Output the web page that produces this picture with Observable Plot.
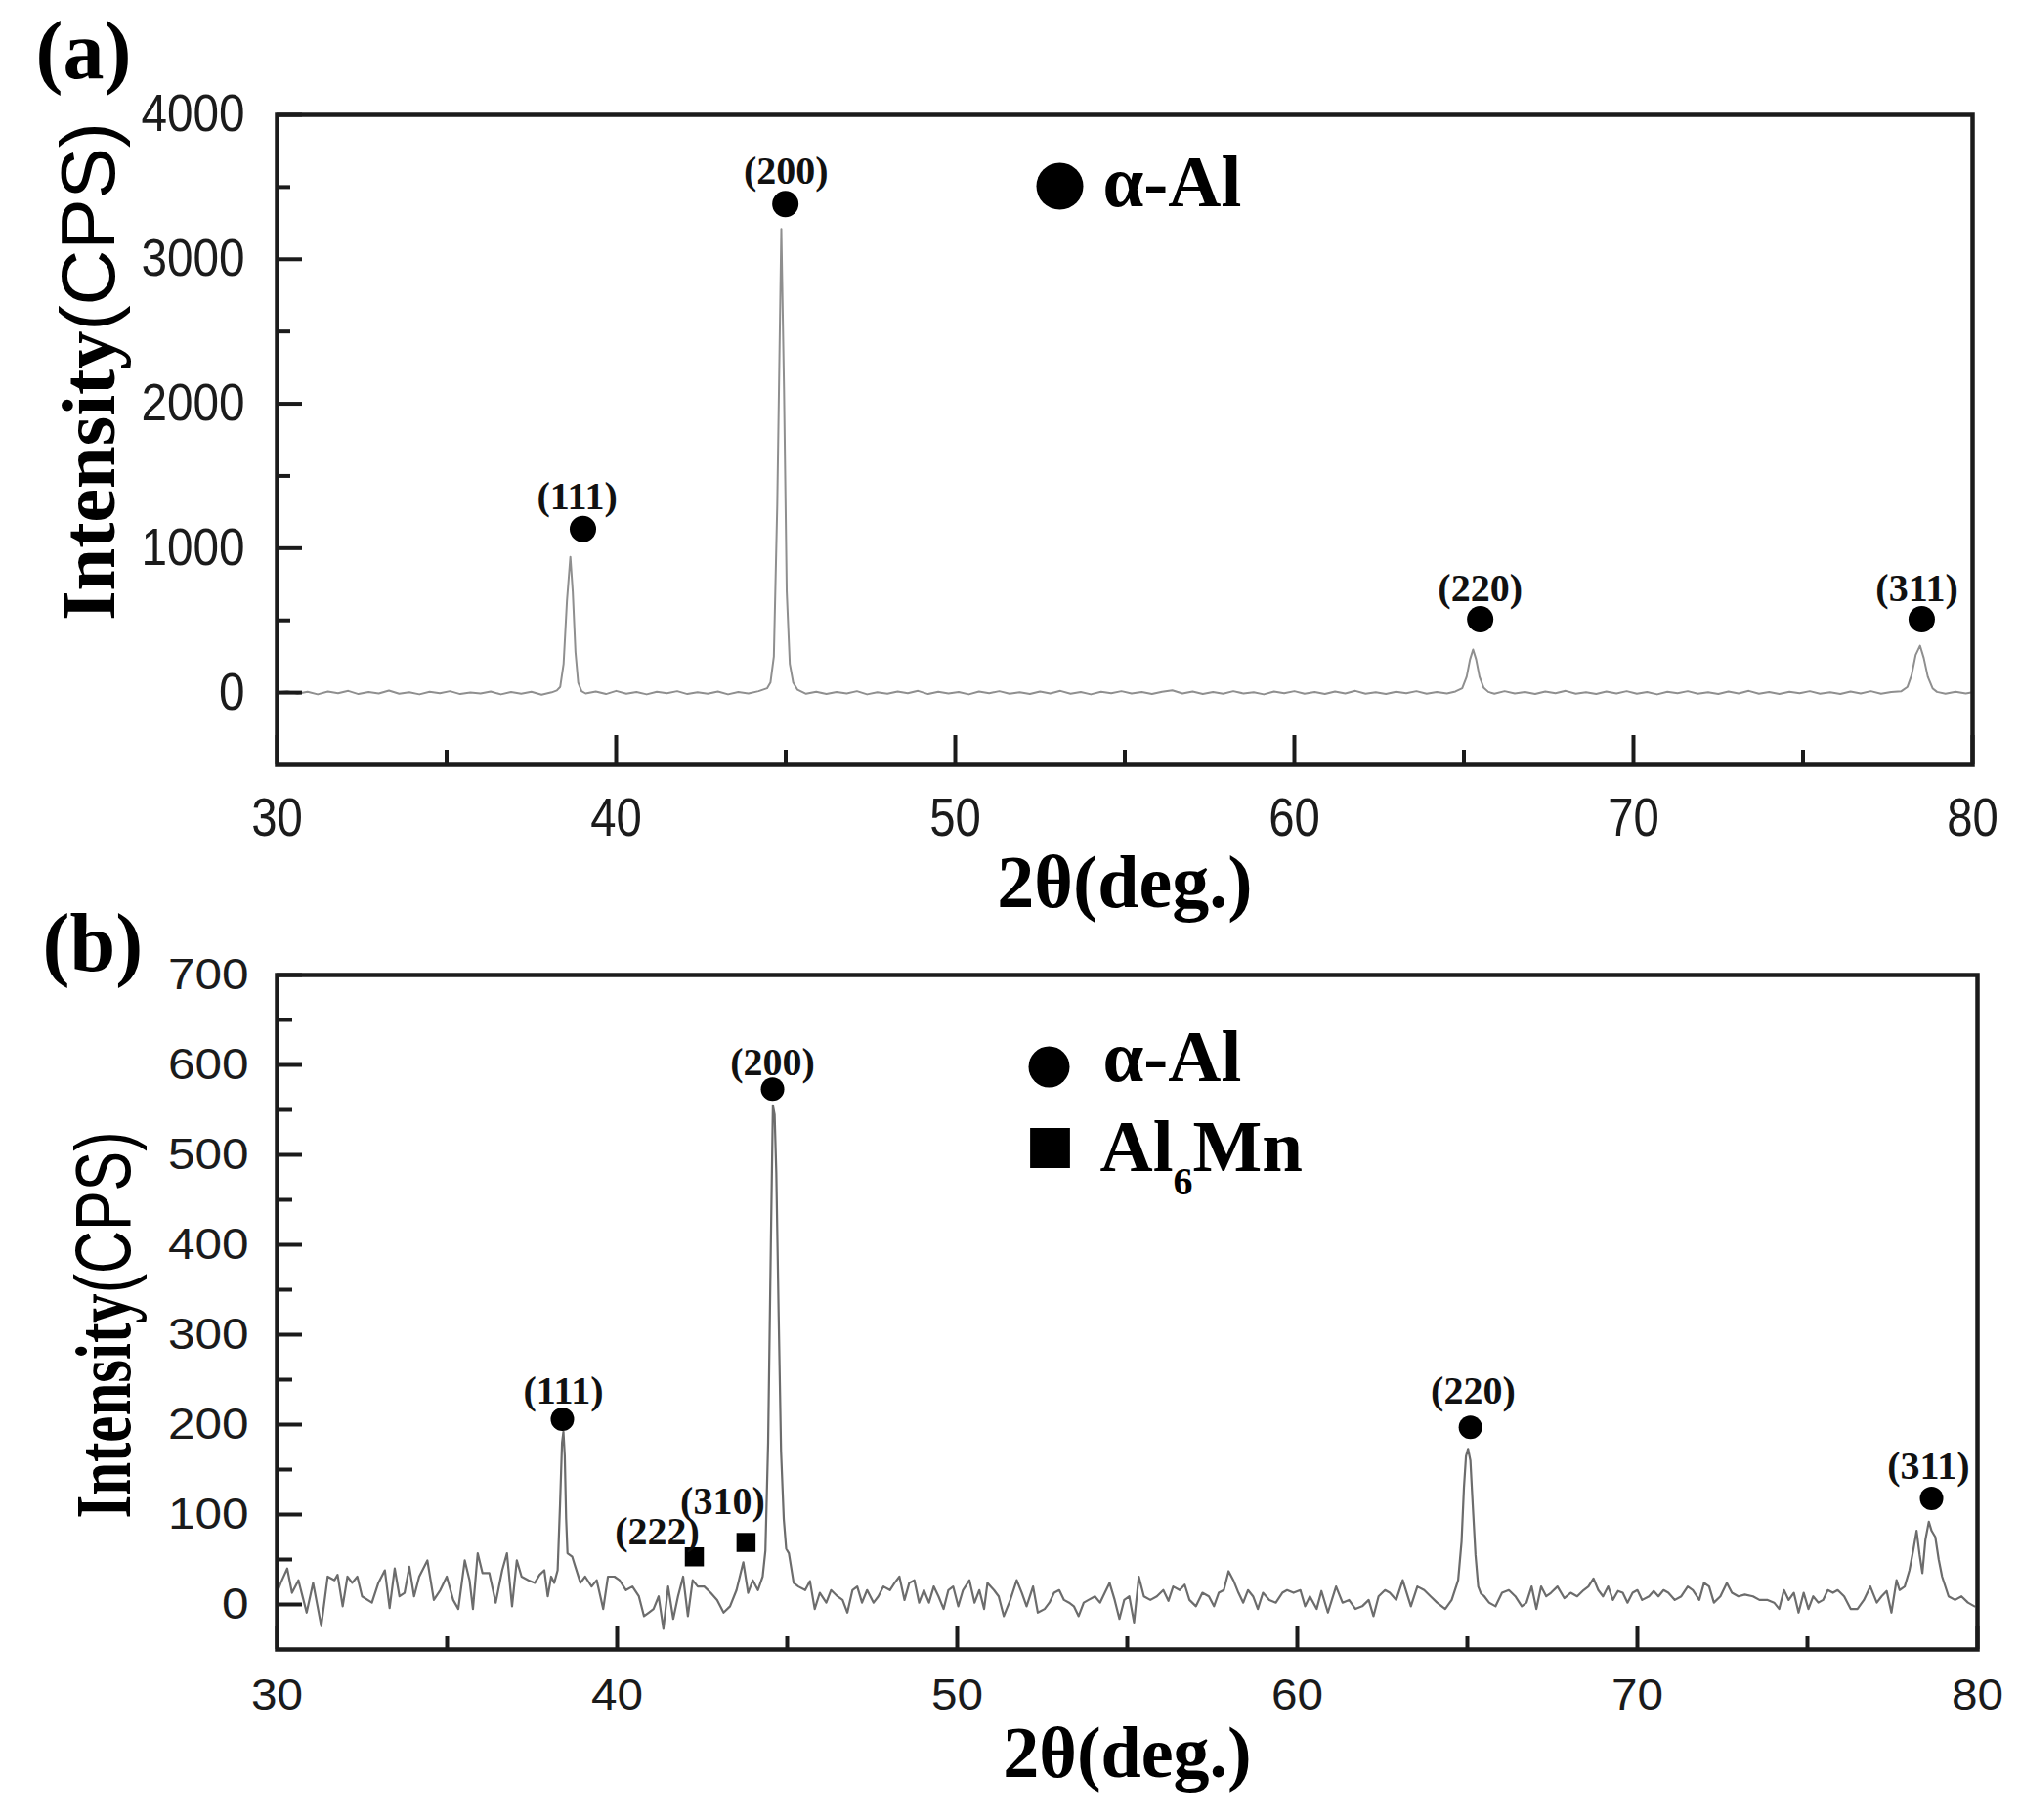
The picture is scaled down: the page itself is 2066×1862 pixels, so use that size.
<!DOCTYPE html>
<html>
<head>
<meta charset="utf-8">
<script src="https://cdn.jsdelivr.net/npm/d3@7"></script>
<script src="https://cdn.jsdelivr.net/npm/@observablehq/plot@0.6"></script>
<style>
html, body { margin: 0; padding: 0; background: #fff; }
#chart { width: 2066px; height: 1862px; }
#chart svg { display: block; }
</style>
</head>
<body>
<div id="chart"></div>
<script>
// ---------- shared axis ticks ----------
const xTicksMajor = [30, 40, 50, 60, 70, 80];
const xTicksMinor = [35, 45, 55, 65, 75];

// ---------- panel (a) ----------
const aYTicksMajor = [0, 1000, 2000, 3000, 4000];
const aYTicksMinor = [500, 1500, 2500, 3500];
const aTheta = [30.0,30.3,30.6,30.9,31.2,31.5,31.8,32.1,32.4,32.7,33.0,33.3,33.6,33.9,34.2,34.5,34.8,35.1,35.4,35.7,36.0,36.3,36.6,36.9,37.2,37.5,37.8,38.1,38.25,
  38.35,38.45,38.55,38.65,38.72,38.8,38.88,38.98,
  39.1,39.4,39.7,40.0,40.3,40.6,40.9,41.2,41.5,41.8,42.1,42.4,42.7,43.0,43.3,43.6,43.9,44.2,
  44.45,44.55,44.65,44.75,44.87,44.95,45.03,45.12,45.22,45.35,
  45.6,45.9,46.2,46.5,46.8,47.1,47.4,47.7,48.0,48.3,48.6,48.9,49.2,49.5,49.8,50.1,50.4,50.7,51.0,51.3,51.6,51.9,52.2,52.5,52.8,53.1,53.4,53.7,54.0,54.3,54.6,54.9,55.2,55.5,55.8,56.1,56.4,56.7,57.0,57.3,57.6,57.9,58.2,58.5,58.8,59.1,59.4,59.7,60.0,60.3,60.6,60.9,61.2,61.5,61.8,62.1,62.4,62.7,63.0,63.3,63.6,63.9,64.2,64.5,64.75,
  64.95,65.08,65.18,65.27,65.36,65.46,65.58,65.72,
  65.9,66.2,66.5,66.8,67.1,67.4,67.7,68.0,68.3,68.6,68.9,69.2,69.5,69.8,70.1,70.4,70.7,71.0,71.3,71.6,71.9,72.2,72.5,72.8,73.1,73.4,73.7,74.0,74.3,74.6,74.9,75.2,75.5,75.8,76.1,76.4,76.7,77.0,77.3,77.6,77.9,
  78.08,78.2,78.32,78.45,78.56,78.68,78.82,78.95,
  79.2,79.5,79.8,80.0];
const aCounts = [0,10,-8,6,-12,8,-4,12,-10,4,-6,14,-8,2,-12,6,-4,10,-10,0,-6,8,-12,4,-8,6,-14,2,15,
  40,200,640,940,700,280,70,10,
  -6,8,-10,12,-8,4,-12,6,-4,10,-10,2,-8,8,-12,4,-6,10,
  30,70,250,1300,3210,2100,700,200,70,20,
  -8,6,-10,4,-6,10,-12,2,-8,8,-4,12,-10,6,-6,4,-12,8,-4,10,-8,2,-10,8,-6,12,-8,4,-12,6,-4,10,-6,4,-10,6,16,-6,8,-10,4,-8,10,-6,2,-12,8,-4,10,-8,4,-10,8,-6,12,-8,2,-10,6,-4,10,-8,4,-6,8,
  30,110,230,298,230,110,35,5,
  -8,10,-6,4,-10,8,-4,12,-8,2,-10,8,-6,10,-8,4,-12,6,-4,10,-8,2,-10,8,-6,12,-8,4,-10,6,-4,10,-8,2,-10,8,-6,10,-8,4,10,
  40,120,260,325,240,110,30,5,
  -8,6,-6,2];
const aHkl = ["(111)", "(200)", "(220)", "(311)"];
const aLabelTheta = [38.85, 45.01, 65.48, 78.36];
const aLabelCounts = [1356, 3607, 719, 719];
const aMarkTheta = [39.02, 44.99, 65.48, 78.50];
const aMarkCounts = [1132, 3383, 508, 508];

// ---------- panel (b) ----------
const bYTicksMajor = [0, 100, 200, 300, 400, 500, 600, 700];
const bYTicksMinor = [50, 150, 250, 350, 450, 550, 650];
const bTheta = [30.02,30.11,30.30,30.44,30.63,30.87,31.06,31.30,31.49,31.69,31.78,31.93,32.07,32.21,32.36,32.50,32.79,32.98,33.17,33.31,33.46,33.60,33.75,33.89,34.03,34.18,34.42,34.61,34.80,34.99,35.18,35.33,35.52,35.66,35.76,35.90,36.04,36.24,36.43,36.62,36.76,36.91,37.05,37.19,37.39,37.58,37.72,37.86,37.96,38.06,38.15,38.25,
  38.32,38.38,38.42,38.46,38.50,38.54,
  38.68,38.77,38.92,39.06,39.25,39.40,39.59,39.73,39.92,40.07,40.26,40.45,40.64,40.79,40.93,41.07,41.22,41.36,41.50,41.65,41.79,41.94,42.08,42.22,42.37,42.56,42.75,42.94,43.13,43.32,43.51,43.71,43.85,43.99,44.14,44.28,
  44.36,44.44,44.52,44.58,44.63,44.68,44.75,44.82,44.90,44.97,
  45.05,45.19,45.33,45.53,45.67,45.81,45.96,46.15,46.29,46.48,46.63,46.77,46.92,47.06,47.20,47.35,47.54,47.68,47.83,48.02,48.16,48.30,48.45,48.59,48.74,48.88,49.02,49.17,49.31,49.45,49.60,49.74,49.88,50.03,50.17,50.36,50.51,50.65,50.79,50.89,51.08,51.22,51.37,51.56,51.75,51.90,52.04,52.23,52.37,52.57,52.71,52.85,53.00,53.14,53.29,53.43,53.57,53.72,53.86,54.05,54.20,54.34,54.48,54.63,54.77,54.91,55.06,55.20,55.34,55.49,55.68,55.87,56.06,56.21,56.35,56.54,56.69,56.83,57.02,57.21,57.40,57.55,57.69,57.84,57.98,58.12,58.27,58.41,58.55,58.70,58.84,58.99,59.18,59.37,59.56,59.70,59.89,60.09,60.23,60.37,60.57,60.71,60.90,61.14,61.33,61.52,61.71,61.91,62.10,62.24,62.39,62.58,62.72,62.91,63.10,63.34,63.53,63.73,63.92,64.11,64.35,64.54,64.73,
  64.83,64.90,64.96,65.02,65.09,65.16,65.24,65.32,65.40,
  65.50,65.64,65.83,66.02,66.22,66.41,66.60,66.74,66.89,67.03,67.17,67.32,67.46,67.65,67.85,68.04,68.23,68.42,68.56,68.71,68.85,68.99,69.14,69.28,69.43,69.57,69.71,69.86,70.00,70.14,70.34,70.48,70.62,70.77,70.91,71.10,71.29,71.48,71.63,71.82,71.96,72.11,72.25,72.44,72.63,72.78,72.97,73.16,73.40,73.59,73.83,74.02,74.17,74.31,74.45,74.60,74.74,74.89,75.03,75.17,75.32,75.46,75.60,75.75,75.89,76.08,76.27,76.47,76.66,76.85,77.04,77.18,77.33,77.47,77.62,77.71,77.86,
  78.00,78.12,78.21,78.30,78.38,78.47,78.57,78.65,78.76,78.86,78.96,
  79.15,79.34,79.53,79.72,79.91];
const bCounts = [15,24,40,13,27,-9,24,-24,31,27,33,-2,31,24,31,9,2,24,38,-4,40,9,13,42,9,31,49,5,16,31,5,-5,49,27,-5,57,35,35,2,38,57,-2,49,31,27,24,33,38,9,31,24,38,
  110,180,192,165,95,57,
  53,42,24,31,20,27,-5,31,31,27,16,20,9,-13,-9,-5,9,-27,20,-16,9,31,-13,27,20,20,13,5,-9,-2,16,47,13,27,16,31,
  60,180,400,555,545,480,320,170,95,62,
  57,24,20,16,26,-5,13,2,16,9,5,-9,16,20,2,16,2,9,20,16,24,31,5,24,27,2,16,2,20,9,-5,16,20,-2,16,27,2,16,-5,24,16,9,-13,5,27,13,-2,20,-9,-5,2,13,16,5,2,-2,-13,2,5,9,2,13,24,5,-16,5,9,-20,31,9,5,9,16,4,20,16,22,5,-2,13,9,-2,13,16,37,27,13,2,16,9,-5,13,5,2,13,16,13,16,-2,9,-5,15,-9,20,2,5,-5,-2,5,-13,9,16,13,5,27,-2,20,16,9,2,-5,5,27,
  70,130,165,173,160,110,55,20,12,
  9,2,-2,13,16,9,-2,2,20,-5,20,9,13,20,7,13,9,16,20,29,16,9,20,5,15,13,2,13,16,5,9,15,9,16,13,5,9,20,16,5,24,20,2,9,24,13,9,11,9,5,5,2,-5,16,5,13,-9,13,-5,9,2,5,16,13,16,9,-5,-5,5,20,2,9,15,-9,27,16,20,
  38,62,82,55,35,72,92,82,75,50,31,
  9,5,9,2,-2];
const bAlHkl = ["(111)", "(200)", "(220)", "(311)"];
const bAlLabelTheta = [38.42, 44.57, 65.17, 78.56];
const bAlLabelCounts = [237, 603, 237, 154];
const bAlMarkTheta = [38.39, 44.57, 65.09, 78.65];
const bAlMarkCounts = [206, 573, 197, 118];
const bMnHkl = ["(222)", "(310)"];
const bMnLabelTheta = [41.18, 43.10];
const bMnLabelCounts = [81, 114];
const bMnMarkTheta = [42.27, 43.79];
const bMnMarkCounts = [53, 69];

const legendA = ["α-Al"];
const legendB = ["α-Al", "Al6Mn"];
const yTitle = "Intensity(CPS)";
const xTitle = "2θ(deg.)";

// ---------- styling ----------
const SERIF = "'Liberation Serif', 'Times New Roman', Times, serif";
const SANS = "'Liberation Sans', Arial, Helvetica, sans-serif";
const INK = "#1b1b1b";
const SVGNS = "http://www.w3.org/2000/svg";

function rows(xs, ys, extra) {
  return xs.map((x, i) => ({x, y: ys[i], label: extra ? extra[i] : null}));
}

function squash(t, s) {
  const tr = t.getAttribute("transform");
  if (tr) t.setAttribute("transform", tr + ` scale(${s},1)`);
  else {
    const x = +t.getAttribute("x") || 0, y = +t.getAttribute("y") || 0;
    t.removeAttribute("x"); t.removeAttribute("y");
    t.setAttribute("transform", `translate(${x},${y}) scale(${s},1)`);
  }
}

function panel(cfg) {
  const {W, H, mL, mR, mT, mB} = cfg;
  const fw = W - mL - mR, fh = H - mT - mB;
  const serifText = {fontFamily: SERIF, fontWeight: "bold", fill: "#000", lineAnchor: "middle"};
  const marks = [
    Plot.line(rows(cfg.theta, cfg.counts), {x: "x", y: "y", stroke: cfg.lineColor, strokeWidth: cfg.lineWidth}),
    Plot.frame({stroke: INK, strokeWidth: 4.5}),
    Plot.tickX(xTicksMajor, {x: d => d, insetTop: fh - cfg.xMajorLen, stroke: INK, strokeWidth: 4}),
    Plot.tickX(xTicksMinor, {x: d => d, insetTop: fh - cfg.xMinorLen, stroke: INK, strokeWidth: 4}),
    Plot.tickY(cfg.yMajor, {y: d => d, insetRight: fw - cfg.yMajorLen, stroke: INK, strokeWidth: 4}),
    Plot.tickY(cfg.yMinor, {y: d => d, insetRight: fw - cfg.yMinorLen, stroke: INK, strokeWidth: 4}),
    Plot.axisX({ticks: xTicksMajor, tickSize: 0, tickPadding: cfg.xPad, tickFormat: d3.format("d"), fontSize: cfg.xFont, fontFamily: SANS, fill: INK, label: null}),
    Plot.axisY({ticks: cfg.yMajor, tickSize: 0, tickPadding: cfg.yPad, tickFormat: d3.format("d"), fontSize: cfg.yFont, fontFamily: SANS, fill: INK, label: null}),
    // peak markers and Miller indices
    Plot.dot(rows(cfg.markTheta, cfg.markCounts), {x: "x", y: "y", r: cfg.dotR, fill: "#000", stroke: "none"}),
    Plot.text(rows(cfg.labelTheta, cfg.labelCounts, cfg.hkl), {x: "x", y: "y", text: "label", fontSize: 40, ...serifText, fill: "#111"}),
    // axis titles
    Plot.text([xTitle], {frameAnchor: "bottom", dy: cfg.xTitleDy, textAnchor: "middle", fontSize: cfg.xTitleSize, ...serifText}),
    Plot.text([yTitle], {frameAnchor: "left", dx: cfg.yTitleDx, dy: cfg.yTitleDy, textAnchor: "middle", rotate: -90, fontSize: cfg.yTitleSize, ...serifText}),
    // panel tag
    Plot.text([cfg.tag], {frameAnchor: "top-left", dx: cfg.tagDx, dy: cfg.tagDy, textAnchor: "start", fontSize: 84, ...serifText}),
    // legend
    Plot.dot([0], {frameAnchor: "top-left", dx: cfg.legDotDx, dy: cfg.legDotDy, r: cfg.legDotR, fill: "#000", stroke: "none"}),
    Plot.text([cfg.legend[0]], {frameAnchor: "top-left", dx: cfg.legTextDx, dy: cfg.legTextDy, textAnchor: "start", fontSize: 75, ...serifText})
  ];
  if (cfg.mnTheta) {
    marks.push(
      Plot.dot(rows(cfg.mnTheta, cfg.mnCounts), {x: "x", y: "y", symbol: "square", r: 11, fill: "#000", stroke: "none"}),
      Plot.text(rows(cfg.mnLabelTheta, cfg.mnLabelCounts, cfg.mnHkl), {x: "x", y: "y", text: "label", fontSize: 40, ...serifText, fill: "#111"}),
      Plot.dot([0], {frameAnchor: "top-left", dx: cfg.legSqDx, dy: cfg.legSqDy, symbol: "square", r: 23, fill: "#000", stroke: "none"}),
      Plot.text([cfg.legend[1]], {frameAnchor: "top-left", dx: cfg.legText2Dx, dy: cfg.legText2Dy, textAnchor: "start", fontSize: 75, ...serifText})
    );
  }
  const svg = Plot.plot({
    width: W, height: H,
    marginLeft: mL, marginRight: mR, marginTop: mT, marginBottom: mB,
    x: {domain: [30, 80]},
    y: {domain: cfg.yDomain},
    style: {background: "#fff", overflow: "visible"},
    marks
  });
  // tick label proportions
  svg.querySelectorAll('g[aria-label="x-axis tick label"] text').forEach(t => squash(t, cfg.xSquash));
  svg.querySelectorAll('g[aria-label="y-axis tick label"] text').forEach(t => squash(t, cfg.ySquash));
  // rich text tweaks (mixed fonts, subscript)
  svg.querySelectorAll("text").forEach(t => {
    if (t.textContent === yTitle) {
      t.textContent = "";
      const a = document.createElementNS(SVGNS, "tspan");
      a.textContent = "Intensity";
      a.setAttribute("font-family", SERIF); a.setAttribute("font-weight", "bold");
      const b = document.createElementNS(SVGNS, "tspan");
      b.textContent = "(CPS)";
      b.setAttribute("font-family", SANS); b.setAttribute("font-weight", "normal");
      t.appendChild(a); t.appendChild(b);
      t.setAttribute("textLength", cfg.yTitleLen);
      t.setAttribute("lengthAdjust", "spacingAndGlyphs");
    } else if (t.textContent === "Al6Mn") {
      t.textContent = "";
      const parts = [["Al", null, null], ["6", 40, 24], ["Mn", null, -24]];
      for (const [s, fs, dy] of parts) {
        const sp = document.createElementNS(SVGNS, "tspan");
        sp.textContent = s;
        if (fs) sp.setAttribute("font-size", fs);
        if (dy) sp.setAttribute("dy", dy);
        t.appendChild(sp);
      }
    }
  });
  return svg;
}

const chart = document.getElementById("chart");

chart.appendChild(panel({
  W: 2066, H: 935, mL: 283, mR: 48, mT: 117, mB: 153,
  yDomain: [-500, 4000], yMajor: aYTicksMajor, yMinor: aYTicksMinor,
  theta: aTheta, counts: aCounts, lineColor: "#8f8f8f", lineWidth: 2,
  xMajorLen: 30, xMinorLen: 15, yMajorLen: 26, yMinorLen: 14,
  xPad: 33, yPad: 33, xFont: 55, yFont: 53, xSquash: 0.86, ySquash: 0.9,
  markTheta: aMarkTheta, markCounts: aMarkCounts, dotR: 13.5,
  labelTheta: aLabelTheta, labelCounts: aLabelCounts, hkl: aHkl,
  xTitleDy: 121, xTitleSize: 76,
  yTitleDx: -191, yTitleDy: -70, yTitleSize: 78, yTitleLen: 510,
  tag: "(a)", tagDx: -247, tagDy: -64,
  legend: legendA, legDotDx: 801, legDotDy: 73, legDotR: 24, legTextDx: 845, legTextDy: 69
}));

chart.appendChild(panel({
  W: 2066, H: 927, mL: 283, mR: 43, mT: 62, mB: 175,
  yDomain: [-50, 700], yMajor: bYTicksMajor, yMinor: bYTicksMinor,
  theta: bTheta, counts: bCounts, lineColor: "#6c6c6c", lineWidth: 2.2,
  xMajorLen: 23, xMinorLen: 13, yMajorLen: 26, yMinorLen: 16,
  xPad: 30, yPad: 29, xFont: 45, yFont: 45, xSquash: 1.06, ySquash: 1.1,
  markTheta: bAlMarkTheta, markCounts: bAlMarkCounts, dotR: 12,
  labelTheta: bAlLabelTheta, labelCounts: bAlLabelCounts, hkl: bAlHkl,
  mnTheta: bMnMarkTheta, mnCounts: bMnMarkCounts,
  mnLabelTheta: bMnLabelTheta, mnLabelCounts: bMnLabelCounts, mnHkl: bMnHkl,
  xTitleDy: 107, xTitleSize: 74,
  yTitleDx: -176, yTitleDy: 13, yTitleSize: 80, yTitleLen: 396,
  tag: "(b)", tagDx: -240, tagDy: -31,
  legend: legendB, legDotDx: 790, legDotDy: 94, legDotR: 21, legTextDx: 845, legTextDy: 84,
  legSqDx: 791, legSqDy: 177, legText2Dx: 842, legText2Dy: 176
}));
</script>
</body>
</html>
